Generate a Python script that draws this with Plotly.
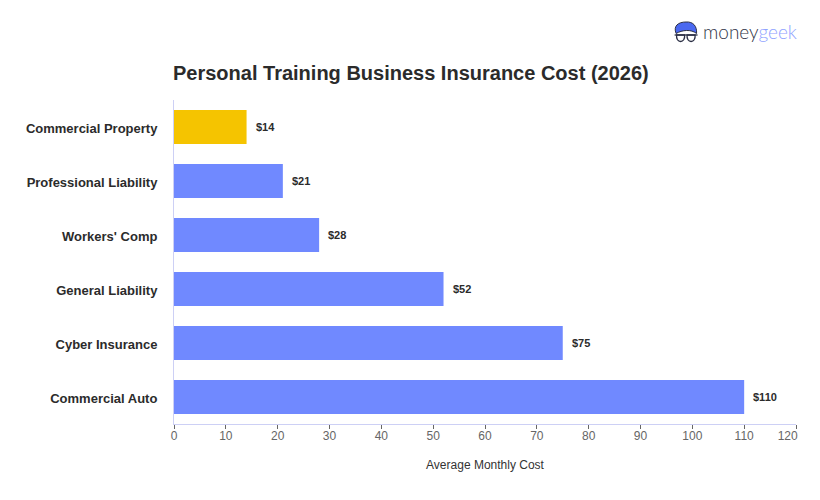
import plotly.graph_objects as go

categories = ["Commercial Auto", "Cyber Insurance", "General Liability",
              "Workers' Comp", "Professional Liability", "Commercial Property"]
monthly_cost = [110, 75, 52, 28, 21, 14]
bar_colors = ["#7089FF"] * 5 + ["#F5C400"]
value_labels = ["$110", "$75", "$52", "$28", "$21", "$14"]
x_ticks = [0, 10, 20, 30, 40, 50, 60, 70, 80, 90, 100, 110, 120]
# The last label is padded so it stays inside the right edge of the axis
x_tick_labels = ["0", "10", "20", "30", "40", "50", "60", "70", "80", "90", "100", "110",
                 "120\u00a0\u00a0\u00a0\u00a0\u00a0"]

W, H = 820, 500
M_L, M_R, M_T, M_B = 173.5, 24, 100, 76
FONT = "Liberation Sans, Arial, sans-serif"
LINE = "#CDD0F5"
INK = "#2B2F45"


def px(x):
    # page pixel to paper fraction, which is measured on the plot area
    return (x - M_L) / (W - M_L - M_R)


def py(y):
    return 1 - (y - M_T) / (H - M_T - M_B)


def page_path(points):
    out = []
    for cmd, *xy in points:
        if xy:
            out.append(cmd + " ".join(f"{px(xy[i]):.5f},{py(xy[i + 1]):.5f}"
                                      for i in range(0, len(xy), 2)))
        else:
            out.append(cmd)
    return " ".join(out)


hair = page_path([("M", 676, 33.5), ("C", 673, 26, 678, 22, 686, 22),
                  ("C", 693, 21.5, 697, 26, 696.5, 33.5),
                  ("C", 691, 29, 682, 30, 676, 33.5), ("Z",)])
left_lens = page_path([("M", 676.5, 35), ("L", 684.5, 35), ("C", 685, 39, 683, 41.5, 680.5, 41.5),
                       ("C", 678, 41.5, 676, 39, 676.5, 35), ("Z",)])
right_lens = page_path([("M", 687, 35), ("L", 695, 35), ("C", 695.5, 39, 693.5, 41.5, 691, 41.5),
                        ("C", 688.5, 41.5, 686.5, 39, 687, 35), ("Z",)])

logo_shapes = [
    dict(type="path", path=hair, xref="paper", yref="paper",
         fillcolor="#4A68F0", line=dict(color=INK, width=1)),
    dict(type="path", path=left_lens, xref="paper", yref="paper",
         line=dict(color=INK, width=1.3)),
    dict(type="path", path=right_lens, xref="paper", yref="paper",
         line=dict(color=INK, width=1.3)),
    dict(type="line", xref="paper", yref="paper", x0=px(674.5), x1=px(697.5),
         y0=py(35), y1=py(35), line=dict(color=INK, width=1.3)),
]

fig = go.Figure(go.Bar(
    x=monthly_cost,
    y=categories,
    orientation="h",
    width=0.63,
    marker=dict(color=bar_colors, line=dict(width=0)),
    hoverinfo="x+y",
))

# Value labels sit a fixed distance past the end of each bar
annotations = [
    dict(x=v, y=c, xref="x", yref="y", text=f"<b>{t}</b>", showarrow=False,
         xanchor="left", xshift=7, font=dict(family=FONT, size=11, color="#2B2B2B"))
    for v, c, t in zip(monthly_cost, categories, value_labels)
]
annotations += [
    dict(x=px(701), y=py(32), xref="paper", yref="paper", showarrow=False,
         xanchor="left", yanchor="middle", align="left",
         text='<span style="color:#2F3347">money</span><span style="color:#8FA2FF">geek</span>',
         font=dict(family="Lato, sans-serif", size=19, weight=300)),
]

fig.update_layout(
    width=W,
    height=H,
    autosize=False,
    paper_bgcolor="white",
    plot_bgcolor="white",
    showlegend=False,
    margin=dict(l=M_L, r=M_R, t=M_T, b=M_B),
    title=dict(text="<b>Personal Training Business Insurance Cost (2026)</b>",
               x=173 / W, xanchor="left", y=1 - 73 / H, yanchor="middle",
               font=dict(family=FONT, size=20, color="#2B2B2B")),
    xaxis=dict(range=[0, 120], tickvals=x_ticks, ticktext=x_tick_labels,
               automargin="height",
               showgrid=False, zeroline=False,
               showline=True, linecolor=LINE, linewidth=1,
               ticks="outside", ticklen=4, tickcolor="#666666", tickwidth=1,
               ticklabelstandoff=-3,
               tickfont=dict(family=FONT, size=12, color="#666666"),
               title=dict(text="Average Monthly Cost", standoff=18,
                          font=dict(family=FONT, size=12, color="#333333"))),
    yaxis=dict(categoryorder="array", categoryarray=categories, showgrid=False,
               zeroline=False, showline=True, linecolor=LINE, linewidth=1,
               ticks="", ticklabelstandoff=13, ticklabelshift=1,
               tickfont=dict(family=FONT, size=13, color="#2B2B2B", weight="bold")),
    annotations=annotations,
    shapes=logo_shapes,
)

fig.write_html("out.html", config=dict(displayModeBar=False))
